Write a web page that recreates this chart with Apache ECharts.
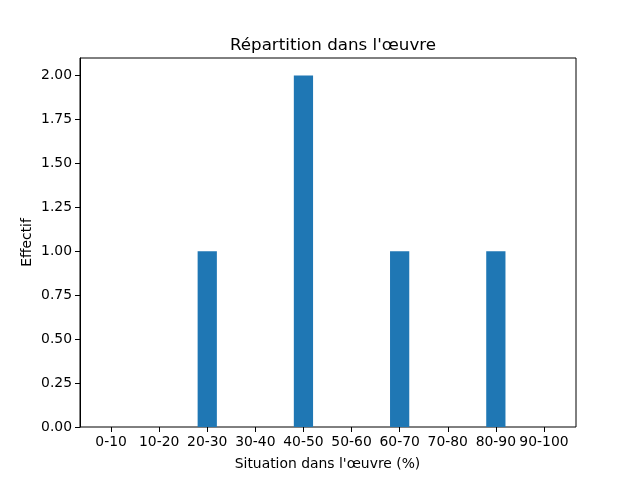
<!DOCTYPE html>
<html><head><meta charset="utf-8">
<script src="https://cdn.jsdelivr.net/npm/echarts@6/dist/echarts.min.js"></script>
<style>html,body{margin:0;padding:0;background:#fff}#c{width:640px;height:480px}</style>
</head><body><div id="c"></div>
<script>
const categories = ['0-10','10-20','20-30','30-40','40-50','50-60','60-70','70-80','80-90','90-100'];
const counts = [0,0,1,0,2,0,1,0,1,0];
const yTicks = [0,0.25,0.5,0.75,1.0,1.25,1.5,1.75,2.0];
const titleText = "Répartition dans l'œuvre";
const xName = "Situation dans l'œuvre (%)";
const yName = 'Effectif';

const font = 'DejaVu Sans';
const chart = echarts.init(document.getElementById('c'), null, {renderer:'canvas'});
chart.setOption({
  animation:false,
  backgroundColor:'#fff',
  title:{text:titleText,left:328,top:32,textAlign:'center',
    textStyle:{fontFamily:font,fontSize:16.7,fontWeight:'normal',color:'#000'}},
  grid:[
    {left:80,right:64,top:58,bottom:53,show:true,borderColor:'#000',borderWidth:1,backgroundColor:'transparent',containLabel:false},
    {left:87,right:72,top:58,bottom:53,containLabel:false}
  ],
  xAxis:[
    {gridIndex:0,type:'value',min:0,max:1,show:false},
    {gridIndex:1,type:'category',data:categories,boundaryGap:true,
     axisLine:{show:false},
     axisTick:{show:true,alignWithLabel:true,length:5,lineStyle:{color:'#000'}},
     axisLabel:{fontFamily:font,fontSize:13.9,color:'#000',margin:8,interval:0},
     name:xName,nameLocation:'middle',nameGap:30,nameMoveOverlap:false,
     nameTextStyle:{fontFamily:font,fontSize:13.9,color:'#000'}}
  ],
  yAxis:[
    {gridIndex:0,type:'value',min:0,max:2.1,
     axisLine:{show:true,lineStyle:{color:'#000'}},
     axisTick:{show:true,length:5,lineStyle:{color:'#000'},customValues:yTicks},
     axisLabel:{fontFamily:font,fontSize:13.9,color:'#000',margin:8,customValues:yTicks,
       formatter:v=>v.toFixed(2)},
     splitLine:{show:false},
     name:yName,nameLocation:'middle',nameGap:46,nameMoveOverlap:false,
     nameTextStyle:{fontFamily:font,fontSize:13.9,color:'#000'}},
    {gridIndex:1,type:'value',min:0,max:2.1,show:false,splitLine:{show:false}}
  ],
  series:[{type:'bar',xAxisIndex:1,yAxisIndex:1,data:counts,barWidth:'40%',
    itemStyle:{color:'#1f77b4'}}]
});
</script></body></html>
